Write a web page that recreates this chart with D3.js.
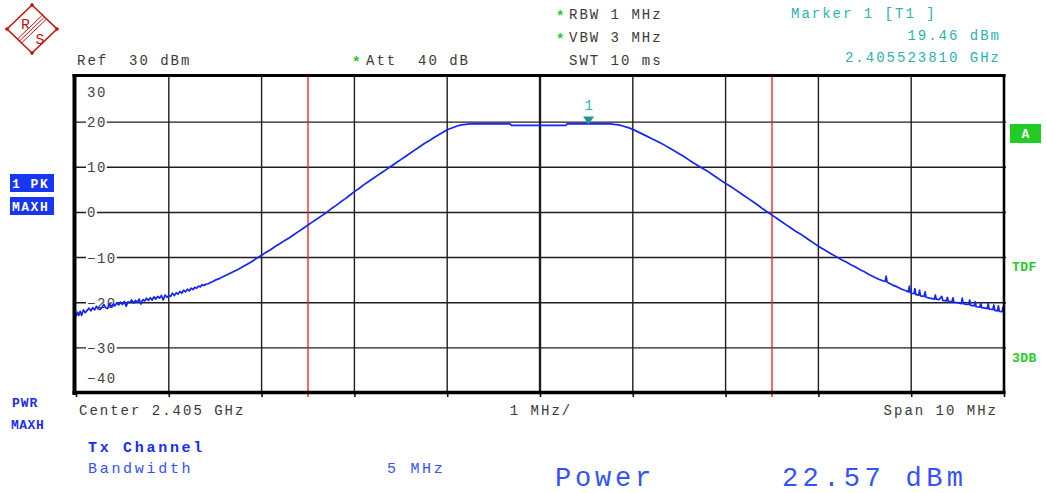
<!DOCTYPE html>
<html><head><meta charset="utf-8">
<script src="https://cdn.jsdelivr.net/npm/d3@7"></script>
<style>
body{margin:0;background:#fff}
svg{display:block}
text{font-family:"Liberation Mono","Courier New",monospace;white-space:pre}
</style>
</head><body><svg id="c" width="1046" height="493"></svg>
<script>
// ---- data ----
const freqDivisions = [-5,-4,-3,-2,-1,0,1,2,3,4,5];          // MHz offset from centre
const levelTicks = [30,20,10,0,-10,-20,-30,-40];             // dBm
const levelTickLabels = ["30","20","10","0","\u221210","\u221220","\u221230","\u221240"];
const channelEdges = [-2.5,2.5];                              // MHz, Tx channel limits
const markerFreq = [0.5238];
const markerLevel = [19.46];
const traceFreq = [
-5.000,-4.985,-4.970,-4.955,-4.940,-4.920,-4.900,-4.880,-4.860,-4.840,-4.820,-4.800,-4.780,-4.760,-4.740,-4.720,-4.700,-4.680,-4.660,-4.640,
-4.620,-4.600,-4.580,-4.560,-4.540,-4.520,-4.500,-4.480,-4.460,-4.440,-4.420,-4.400,-4.380,-4.360,-4.340,-4.320,-4.300,-4.280,-4.260,-4.240,
-4.220,-4.200,-4.180,-4.160,-4.140,-4.120,-4.100,-4.080,-4.060,-4.040,-4.020,-4.000,-3.980,-3.960,-3.940,-3.920,-3.900,-3.880,-3.860,-3.840,
-3.820,-3.800,-3.780,-3.760,-3.740,-3.720,-3.700,-3.680,-3.660,-3.640,-3.620,-3.600,-3.575,-3.550,-3.525,
-3.50,-3.45,-3.40,-3.35,-3.30,-3.25,-3.20,-3.15,-3.10,-3.05,-3.00,-2.95,-2.90,-2.85,-2.80,-2.75,-2.70,-2.65,-2.60,-2.55,
-2.50,-2.45,-2.40,-2.35,-2.30,-2.25,-2.20,-2.15,-2.10,-2.05,-2.00,-1.95,-1.90,-1.85,-1.80,-1.75,-1.70,-1.65,-1.60,-1.55,
-1.50,-1.45,-1.40,-1.35,-1.30,-1.25,-1.20,-1.15,-1.10,-1.05,-1.00,-0.95,-0.90,-0.85,-0.80,-0.75,-0.32,-0.31,0.28,0.29,
0.76,0.80,0.85,0.90,0.95,1.00,1.05,1.10,1.15,1.20,1.25,1.30,1.35,1.40,1.45,1.50,1.55,1.60,1.65,1.70,
1.75,1.80,1.85,1.90,1.95,2.00,2.05,2.10,2.15,2.20,2.25,2.30,2.35,2.40,2.45,2.50,2.55,2.60,2.65,2.70,
2.75,2.80,2.85,2.90,2.95,3.00,3.05,3.10,3.15,3.20,3.25,3.30,3.35,3.40,3.45,3.50,3.55,3.60,3.65,3.70,
3.72,3.73,3.74,3.75,3.80,3.85,3.90,3.95,3.97,3.98,3.99,4.00,4.03,4.04,4.05,4.08,4.09,4.10,4.14,4.15,
4.16,4.20,4.25,4.26,4.27,4.30,4.33,4.34,4.38,4.39,4.40,4.44,4.45,4.46,4.50,4.54,4.55,4.56,4.60,4.62,
4.63,4.64,4.68,4.69,4.70,4.74,4.75,4.76,4.80,4.82,4.83,4.84,4.88,4.89,4.90,4.93,4.94,4.95,4.98,4.99,5.00
];
const traceLevel = [
-23.0,-22.1,-22.8,-21.9,-22.8,-21.6,-22.2,-21.7,-21.2,-21.8,-21.1,-21.6,-20.8,-21.4,-21.5,-21.0,-20.4,-21.1,-21.3,-20.2,
-20.9,-20.3,-20.7,-20.0,-20.5,-19.9,-20.4,-19.7,-20.8,-19.8,-20.0,-19.4,-20.1,-19.5,-19.9,-19.2,-20.3,-19.3,-19.6,-19.0,
-19.5,-18.9,-19.4,-18.7,-19.2,-18.6,-19.0,-18.4,-19.4,-18.3,-18.8,-18.4,-18.6,-17.9,-18.4,-17.8,-18.1,-17.5,-17.9,-17.2,
-17.6,-17.0,-17.4,-16.8,-17.1,-16.6,-16.8,-16.3,-16.5,-16.0,-16.2,-15.9,-15.8,-15.5,-15.3,
-15.0,-14.6,-14.1,-13.6,-13.1,-12.6,-12.0,-11.4,-10.8,-10.1,-9.5,-8.8,-8.2,-7.5,-6.9,-6.2,-5.6,-4.9,-4.2,-3.5,
-2.8,-2.1,-1.4,-0.7,0.0,0.8,1.5,2.3,3.0,3.8,4.6,5.3,6.1,6.8,7.5,8.2,8.9,9.6,10.3,11.0,
11.7,12.4,13.1,13.8,14.5,15.2,15.8,16.5,17.1,17.7,18.3,18.7,19.1,19.4,19.5,19.6,19.6,19.3,19.3,19.6,
19.6,19.5,19.4,19.1,18.8,18.4,17.9,17.4,16.9,16.4,15.9,15.4,14.8,14.2,13.6,13.0,12.4,11.7,11.0,10.4,
9.8,9.2,8.5,7.8,7.1,6.4,5.8,5.1,4.4,3.7,3.0,2.3,1.6,0.8,0.1,-0.6,-1.3,-2.0,-2.7,-3.4,
-4.1,-4.7,-5.4,-6.1,-6.8,-7.5,-8.1,-8.7,-9.3,-9.9,-10.5,-11.0,-11.6,-12.1,-12.7,-13.2,-13.8,-14.3,-14.8,-15.2,
-15.3,-14.1,-15.4,-15.6,-16.1,-16.5,-17.0,-17.4,-17.6,-16.3,-17.7,-17.9,-18.0,-16.9,-18.2,-18.3,-17.2,-18.5,-18.6,-17.6,
-18.8,-19.0,-19.2,-18.3,-19.2,-19.3,-18.6,-19.5,-19.6,-18.8,-19.7,-19.8,-18.9,-19.9,-20.0,-20.2,-19.0,-20.2,-20.4,-20.4,
-19.4,-20.6,-20.7,-19.8,-20.9,-21.0,-20.0,-21.1,-21.2,-21.3,-20.2,-21.4,-21.5,-20.5,-21.7,-21.8,-20.7,-21.9,-22.0,-21.0,-22.3
];

// ---- setup ----
const svg = d3.select("#c");
svg.append("rect").attr("width",1046).attr("height",493).attr("fill","#fff");
const x = d3.scaleLinear().domain([-5,5]).range([76,1004]);
const y = d3.scaleLinear().domain([-40,30]).range([393,77]);

const GRID = "#1e1e1e", GRAY = "#3a3a3a", CYAN = "#2bb3b3", GREEN = "#22cc22",
      BLUE = "#1a2cff", BLUE2 = "#3552ff", BOX = "#1736f2";

function txt(px, py, s, o={}) {
  const t = svg.append("text").attr("x",px).attr("y",py).text(s)
    .attr("font-size", o.size||14).attr("fill", o.fill||GRAY)
    .attr("letter-spacing", o.ls===undefined?2:o.ls);
  if (o.anchor) t.attr("text-anchor", o.anchor);
  if (o.weight) t.attr("font-weight", o.weight);
  if (o.family) t.attr("font-family", o.family);
  return t;
}

// ---- logo ----
const logo = svg.append("g").attr("stroke","#cc1111").attr("fill","none");
logo.append("path").attr("d","M7,29 L32,5 L57,29 L32,53 Z").attr("stroke-width",1.6);
[[7,29],[32,5],[57,29],[32,53]].forEach(p=>logo.append("circle").attr("cx",p[0]).attr("cy",p[1]).attr("r",1.3).attr("fill","#cc1111"));
[-2,0,2].forEach(o=>logo.append("line").attr("x1",19.5+o).attr("y1",41+o).attr("x2",44.5+o).attr("y2",17+o).attr("stroke-width",1));
svg.append("text").attr("x",25.5).attr("y",28.5).text("R").attr("font-family","Liberation Sans").attr("font-size",15).attr("fill","#cc1111").attr("text-anchor","middle");
svg.append("text").attr("x",40).attr("y",43.5).text("S").attr("font-family","Liberation Sans").attr("font-size",15).attr("fill","#cc1111").attr("text-anchor","middle");

// ---- header ----
txt(77,65,"Ref  30 dBm");
txt(352,67,"*",{fill:GREEN,weight:"bold",ls:0});
txt(366,65,"Att  40 dB");
txt(556,21,"*",{fill:GREEN,weight:"bold",ls:0});
txt(569,19,"RBW 1 MHz");
txt(556,44,"*",{fill:GREEN,weight:"bold",ls:0});
txt(569,42,"VBW 3 MHz");
txt(569,65,"SWT 10 ms");
txt(791,18,"Marker 1 [T1 ]",{fill:CYAN});
txt(1001,40,"19.46 dBm",{fill:CYAN,anchor:"end"});
txt(1001,62,"2.405523810 GHz",{fill:CYAN,anchor:"end"});

// ---- grid ----
const plot = svg.append("g");
plot.selectAll("line.h").data(levelTicks.filter(v=>v<30&&v>-40)).enter().append("line")
  .attr("x1",x(-5)).attr("x2",x(5)+2).attr("y1",d=>y(d)).attr("y2",d=>y(d))
  .attr("stroke",GRID).attr("stroke-width",1.4);
plot.selectAll("line.v").data(freqDivisions.filter(v=>v>-5&&v<5)).enter().append("line")
  .attr("x1",d=>x(d)).attr("x2",d=>x(d)).attr("y1",y(30)).attr("y2",y(-40))
  .attr("stroke",GRID).attr("stroke-width",d=>d===0?2.4:1.4);

// level labels with white backing
levelTicks.forEach((v,i)=>{
  const by = v===30 ? y(v)+20 : (v===-40 ? y(v)-10 : y(v)+5);
  const t = txt(87,by,levelTickLabels[i],{fill:"#444",ls:1.5});
  const bb = t.node().getBBox();
  svg.insert("rect", () => t.node()).attr("x",bb.x-1).attr("y",bb.y).attr("width",bb.width+1).attr("height",bb.height).attr("fill","#fff");
});

// channel limit lines
svg.selectAll("line.ch").data(channelEdges).enter().append("line")
  .attr("x1",d=>x(d)).attr("x2",d=>x(d)).attr("y1",y(30)).attr("y2",y(-40)+4)
  .attr("stroke","#ee1a1a").attr("stroke-width",1.3);

// bottom tick marks via axis
const ax = svg.append("g").attr("transform",`translate(0,${y(-40)})`)
  .call(d3.axisBottom(x).tickValues(freqDivisions).tickSize(4).tickFormat(""));
ax.select(".domain").remove();
ax.selectAll("line").attr("stroke","#111").attr("stroke-width",1.6);

// trace
svg.append("clipPath").attr("id","pc").append("rect").attr("x",x(-5)).attr("y",y(30)).attr("width",x(5)-x(-5)).attr("height",y(-40)-y(30));
const pts = traceFreq.map((f,i)=>[f,traceLevel[i]]);
svg.append("path").datum(pts).attr("clip-path","url(#pc)")
  .attr("d",d3.line().x(d=>x(d[0])).y(d=>y(d[1])))
  .attr("fill","none").attr("stroke","#1426f5").attr("stroke-width",1.7).attr("stroke-linejoin","round");

// frame
const F = svg.append("g").attr("stroke","#000");
F.append("line").attr("x1",72.5).attr("x2",1005.5).attr("y1",75.5).attr("y2",75.5).attr("stroke-width",3);
F.append("line").attr("x1",74.5).attr("x2",74.5).attr("y1",74).attr("y2",395).attr("stroke-width",4);
F.append("line").attr("x1",72.5).attr("x2",1005.5).attr("y1",392.5).attr("y2",392.5).attr("stroke-width",3.5);
F.append("line").attr("x1",1004).attr("x2",1004).attr("y1",74).attr("y2",394).attr("stroke-width",2.6);

// marker
markerFreq.forEach((f,i)=>{
  const mx = x(f), my = y(markerLevel[i]);
  svg.append("path").attr("d",`M${mx-5.5},${my-8} L${mx+5.5},${my-8} L${mx},${my} Z`).attr("fill","#1a9a9a");
  txt(mx,my-15,"1",{fill:CYAN,anchor:"middle",ls:0});
});

// left side boxes
[["1 PK",174],["MAXH",197]].forEach(([s,top])=>{
  svg.append("rect").attr("x",10).attr("y",top).attr("width",44).attr("height",18).attr("fill",BOX);
  svg.append("clipPath").attr("id","cl"+top).append("rect").attr("x",10).attr("y",top).attr("width",43).attr("height",18);
  txt(12,top+14,s,{fill:"#fff",weight:"bold",size:13,ls:1.5,family:"Liberation Serif"}).attr("clip-path",`url(#cl${top})`);
});
txt(12,407,"PWR",{fill:BLUE,weight:"bold",size:13,ls:1,family:"Liberation Serif"});
txt(11,429,"MAXH",{fill:BLUE,weight:"bold",size:13,ls:0.5,family:"Liberation Serif"});

// right side
svg.append("rect").attr("x",1010).attr("y",124).attr("width",31).attr("height",19).attr("fill",GREEN);
txt(1025.5,138,"A",{fill:"#fff",weight:"bold",size:13,ls:0,anchor:"middle",family:"Liberation Serif"});
txt(1012,271,"TDF",{fill:GREEN,weight:"bold",size:13,ls:0.5,family:"Liberation Serif"});
txt(1012,362,"3DB",{fill:GREEN,weight:"bold",size:13,ls:0.5,family:"Liberation Serif"});

// bottom axis text
txt(79,415,"Center 2.405 GHz");
txt(541,415,"1 MHz/",{anchor:"middle"});
txt(998,415,"Span 10 MHz",{anchor:"end"});

// channel power
txt(88,452,"Tx Channel",{fill:BLUE,weight:"bold",size:15,ls:2.7});
txt(88,473,"Bandwidth",{fill:BLUE2,size:15,ls:2.7});
txt(387,473,"5 MHz",{fill:BLUE2,size:15,ls:2.7});
txt(555,486,"Power",{fill:BLUE2,size:27,ls:3.8});
txt(782,486,"22.57 dBm",{fill:BLUE2,size:27,ls:4.4});
</script></body></html>
